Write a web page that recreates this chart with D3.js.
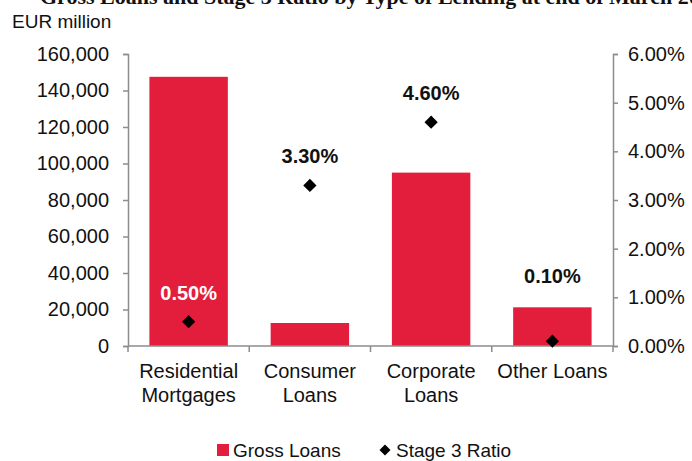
<!DOCTYPE html>
<html lang="en">
<head>
	<meta charset="UTF-8">
	<title>Gross Loans and Stage 3 Ratio</title>
	<style>
		body {
			margin: 0;
			background: #fff;
			font-family: "Liberation Sans", Arial, sans-serif;
		}
	</style>
</head>
<body>
	<svg></svg>
</body>
<script src="https://cdnjs.cloudflare.com/ajax/libs/d3/7.8.5/d3.min.js"></script>
<script>
	const width = 692,
		height = 461;

	// chart values
	const categories = [['Residential', 'Mortgages'], ['Consumer', 'Loans'], ['Corporate', 'Loans'], ['Other Loans']];
	const grossLoans = [147500, 12600, 95000, 21200];
	const stage3Ratio = [0.005, 0.033, 0.046, 0.001];
	const leftTicks = [0, 20000, 40000, 60000, 80000, 100000, 120000, 140000, 160000];
	const rightTicks = [0, 0.01, 0.02, 0.03, 0.04, 0.05, 0.06];
	const legendLabels = ['Gross Loans', 'Stage 3 Ratio'];

	const barColor = '#e31d3c';
	const axisColor = '#8c8c8c';
	const textColor = '#111';
	const margin = {top: 54, right: 79, bottom: 115, left: 128};

	const svg = d3.select('svg')
		.attr('width', width)
		.attr('height', height);

	// title is clipped by the top edge in the reference
	svg.append('text')
		.attr('x', 40)
		.attr('y', 4)
		.attr('fill', textColor)
		.style('font-family', '"Liberation Serif", "Times New Roman", serif')
		.style('font-weight', 'bold')
		.style('font-size', '22px')
		.text('Gross Loans and Stage 3 Ratio by Type of Lending at end of March 2019');

	svg.append('text')
		.attr('x', 12)
		.attr('y', 28)
		.attr('fill', textColor)
		.style('font-size', '19px')
		.text('EUR million');

	const x = d3.scaleBand()
		.domain(d3.range(categories.length))
		.range([margin.left, width - margin.right])
		.paddingInner(0.353)
		.paddingOuter(0.1765);

	const yLeft = d3.scaleLinear()
		.domain([0, 160000])
		.range([height - margin.bottom, margin.top]);

	const yRight = d3.scaleLinear()
		.domain([0, 0.06])
		.range([height - margin.bottom, margin.top]);

	// bars
	svg.append('g')
		.selectAll('rect')
		.data(grossLoans)
		.join('rect')
		.attr('x', (d, i) => x(i))
		.attr('width', x.bandwidth())
		.attr('y', d => yLeft(d))
		.attr('height', d => yLeft(0) - yLeft(d))
		.attr('fill', barColor);

	// axes
	const fmt = d3.format(',');
	const gl = svg.append('g')
		.attr('transform', `translate(${margin.left},0)`)
		.call(d3.axisLeft(yLeft).tickValues(leftTicks).tickFormat(fmt).tickSize(5).tickPadding(14));
	const gr = svg.append('g')
		.attr('transform', `translate(${width - margin.right},0)`)
		.call(d3.axisRight(yRight).tickValues(rightTicks).tickFormat(d3.format('.2%')).tickSize(5).tickPadding(10));

	const xEdges = d3.range(categories.length + 1).map(i => margin.left + i * x.step());
	const gx = svg.append('g')
		.attr('transform', `translate(0,${yLeft(0)})`);
	gx.append('line')
		.attr('x1', margin.left)
		.attr('x2', width - margin.right)
		.attr('stroke', axisColor)
		.attr('stroke-width', 1.5);
	gx.selectAll('line.tick')
		.data(xEdges)
		.join('line')
		.attr('class', 'tick')
		.attr('x1', d => d)
		.attr('x2', d => d)
		.attr('y1', 0)
		.attr('y2', 6)
		.attr('stroke', axisColor)
		.attr('stroke-width', 1.5);

	gx.selectAll('text')
		.data(categories)
		.join('text')
		.attr('text-anchor', 'middle')
		.attr('fill', textColor)
		.style('font-size', '20px')
		.attr('transform', (d, i) => `translate(${x(i) + x.bandwidth() / 2},32)`)
		.selectAll('tspan')
		.data(d => d)
		.join('tspan')
		.attr('x', 0)
		.attr('dy', (d, j) => j === 0 ? 0 : 24)
		.text(d => d);

	[gl, gr].forEach(g => {
		g.select('.domain').attr('stroke', axisColor).attr('stroke-width', 1.5);
		g.selectAll('.tick line').attr('stroke', axisColor).attr('stroke-width', 1.5);
		g.selectAll('.tick text')
			.style('font-size', '20px')
			.style('font-family', '"Liberation Sans", Arial, sans-serif')
			.attr('fill', textColor);
	});

	// diamonds
	const diamond = d3.symbol().type(d3.symbolSquare).size(88);
	svg.append('g')
		.selectAll('path')
		.data(stage3Ratio)
		.join('path')
		.attr('d', diamond)
		.attr('transform', (d, i) => `translate(${x(i) + x.bandwidth() / 2},${yRight(d)}) rotate(45)`)
		.attr('fill', '#000');

	// ratio labels
	svg.append('g')
		.selectAll('text')
		.data(stage3Ratio)
		.join('text')
		.each(function(d, i) {
			const cx = x(i) + x.bandwidth() / 2;
			const barTop = yLeft(grossLoans[i]);
			let ly = yRight(d) - 29;
			let inside = ly > barTop;
			if (inside && ly - barTop < 40) {
				ly = barTop - 31;
				inside = false;
			}
			d3.select(this)
				.attr('x', cx)
				.attr('y', ly)
				.attr('dy', '0.35em')
				.attr('text-anchor', 'middle')
				.style('font-size', '20px')
				.style('font-weight', 'bold')
				.attr('fill', inside ? '#fff' : textColor)
				.text(d3.format('.2%')(d));
		});

	// legend
	const legend = svg.append('g')
		.attr('transform', 'translate(0,450)');
	legend.append('rect')
		.attr('x', 217)
		.attr('y', -6)
		.attr('width', 12)
		.attr('height', 12)
		.attr('fill', barColor);
	legend.append('text')
		.attr('x', 233)
		.attr('dy', '0.35em')
		.attr('fill', textColor)
		.style('font-size', '19px')
		.text(legendLabels[0]);
	legend.append('path')
		.attr('d', d3.symbol().type(d3.symbolSquare).size(60))
		.attr('transform', 'translate(385,0) rotate(45)')
		.attr('fill', '#000');
	legend.append('text')
		.attr('x', 396)
		.attr('dy', '0.35em')
		.attr('fill', textColor)
		.style('font-size', '19px')
		.text(legendLabels[1]);
</script>
</html>
